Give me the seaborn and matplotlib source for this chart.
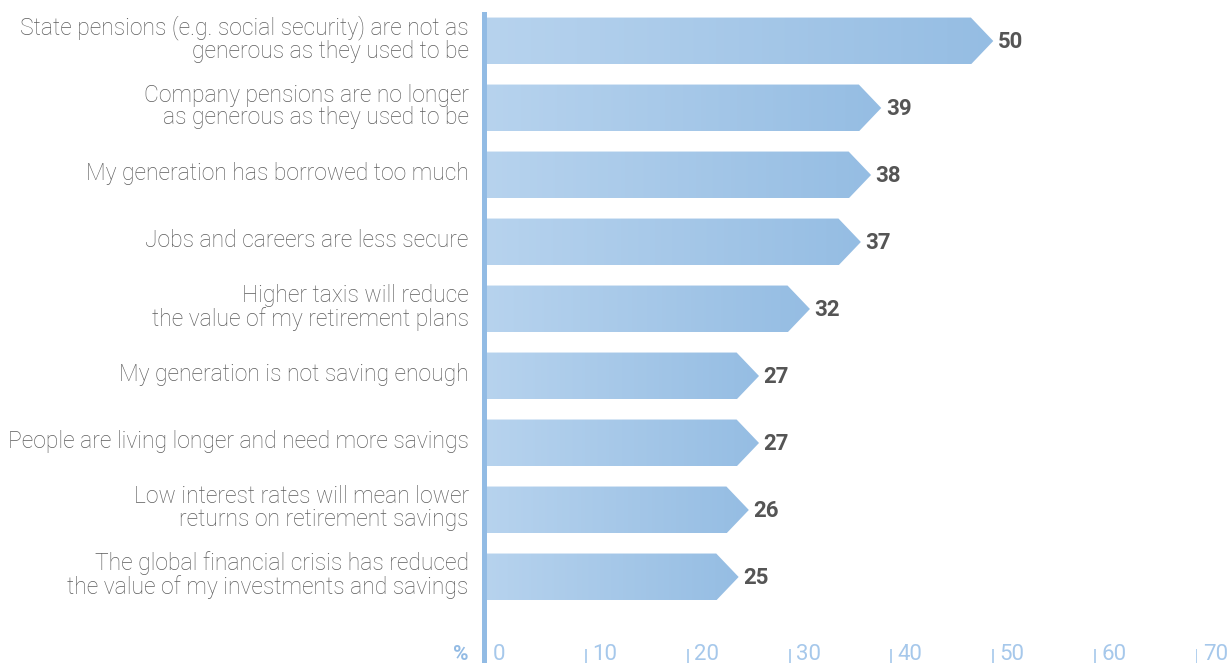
import matplotlib
matplotlib.use("Agg")
import matplotlib.pyplot as plt
from matplotlib.patches import Polygon
import matplotlib.colors as mcolors
import numpy as np
import pandas as pd
import seaborn as sns

categories = [
    "State pensions (e.g. social security) are not as\ngenerous as they used to be",
    "Company pensions are no longer\nas generous as they used to be",
    "My generation has borrowed too much",
    "Jobs and careers are less secure",
    "Higher taxis will reduce\nthe value of my retirement plans",
    "My generation is not saving enough",
    "People are living longer and need more savings",
    "Low interest rates will mean lower\nreturns on retirement savings",
    "The global financial crisis has reduced\nthe value of my investments and savings",
]
values = [50, 39, 38, 37, 32, 27, 27, 26, 25]
tick_values = [0, 10, 20, 30, 40, 50, 60, 70]

sns.set_style("white")
plt.rcParams["font.family"] = ["Roboto", "DejaVu Sans"]

LABEL_GREY = "#5c5c5c"
VALUE_GREY = "#555555"
AXIS_BLUE = "#92bbe4"
TICK_BLUE = "#a6c8eb"
PCT_BLUE = "#93bbe4"
grad_cmap = mcolors.LinearSegmentedColormap.from_list(
    "bar_grad", ["#b7d3ee", "#95bde3"])

df = pd.DataFrame({"reason": categories, "pct": values})

fig = plt.figure(figsize=(12.32, 6.63), dpi=100)
ax = fig.add_axes([484 / 1232, 0, (1197 - 484) / 1232, (663 - 14) / 663])

sns.barplot(data=df, x="pct", y="reason", orient="h", width=0.70,
            color="#a8c9ea", ax=ax)

xlim = (0, 70)
ylim = (9.284, -0.403)

# Turn each bar into a gradient-filled arrow pointing at its value
tip = 2.2
gradient = np.linspace(0, 1, 256).reshape(1, -1)
for patch in list(ax.patches):
    x0, y0 = patch.get_x(), patch.get_y()
    w, h = patch.get_width(), patch.get_height()
    patch.set_visible(False)
    x1 = x0 + w
    verts = [(x0, y0), (x1 - tip, y0), (x1, y0 + h / 2),
             (x1 - tip, y0 + h), (x0, y0 + h)]
    poly = Polygon(verts, closed=True, facecolor="none", edgecolor="none")
    ax.add_patch(poly)
    im = ax.imshow(gradient, cmap=grad_cmap, aspect="auto",
                   extent=(x0, x1, y0 + h, y0), interpolation="bilinear",
                   zorder=2)
    im.set_clip_path(poly)
    ax.text(x1 + 0.45, y0 + h / 2 + 0.02, f"{w:g}", ha="left", va="center",
            fontsize=16, fontweight="bold", color=VALUE_GREY)

ax.set_xlim(*xlim)
ax.set_ylim(*ylim)

# Category labels, right-aligned against the axis line
ax.tick_params(axis="y", length=0, labelleft=False)
for pos, label in zip(ax.get_yticks(), categories):
    ax.text(-1.5, pos - 0.025, label, ha="right", va="center",
            multialignment="right", linespacing=0.98, fontsize=16.5,
            fontweight="light", color=LABEL_GREY, clip_on=False)

# Bottom scale drawn inside the plotting area
ax.set_xticks([])
ax.set_xlabel("")
ax.set_ylabel("")
y_base = 9.239
for t in tick_values:
    ax.text(t + (0.85 if t == 0 else 0.6), y_base, str(t), ha="left",
            va="baseline", fontsize=16, color=TICK_BLUE, fontweight="normal")
ax.vlines(tick_values[1:], 9.075, 9.284, color=TICK_BLUE, lw=1.2, zorder=3)
ax.text(-2.3, y_base, "%", ha="center", va="baseline", fontsize=15,
        color=PCT_BLUE, fontweight="bold", clip_on=False)

for side in ["top", "right", "bottom"]:
    ax.spines[side].set_visible(False)
ax.spines["left"].set_color(AXIS_BLUE)
ax.spines["left"].set_linewidth(3.6)

fig.savefig("out.png", dpi=100, facecolor="white")
